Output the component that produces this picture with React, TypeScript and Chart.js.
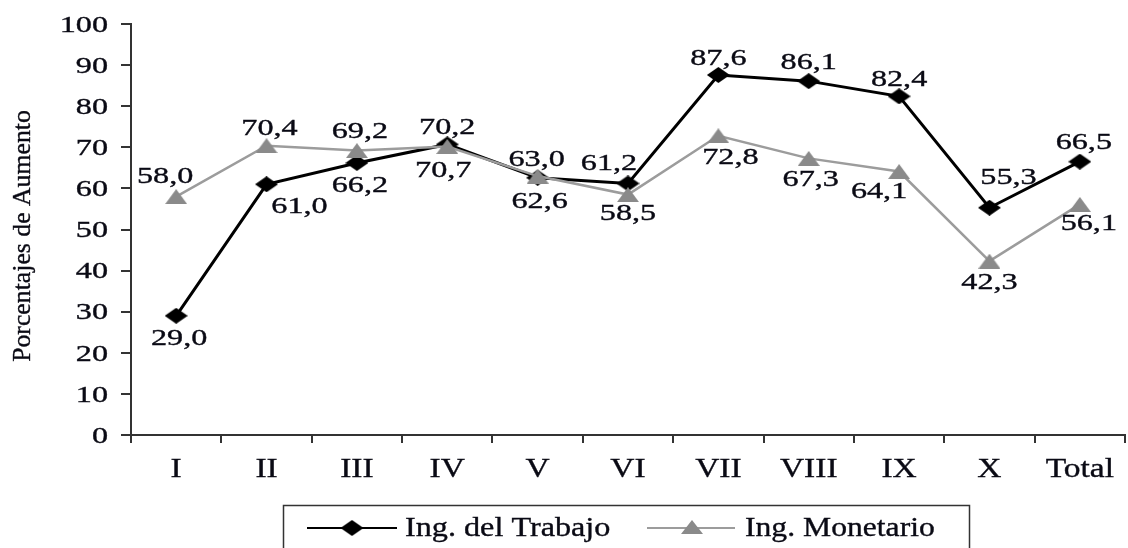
import React, { useEffect, useRef } from "react";
import { Chart, registerables } from "chart.js";

Chart.register(...registerables);

// Income growth by decile (percent increase)
const categories = ["I", "II", "III", "IV", "V", "VI", "VII", "VIII", "IX", "X", "Total"];
const ingTrabajo = [29.0, 61.0, 66.2, 70.7, 62.6, 61.2, 87.6, 86.1, 82.4, 55.3, 66.5];
const ingMonetario = [58.0, 70.4, 69.2, 70.2, 63.0, 58.5, 72.8, 67.3, 64.1, 42.3, 56.1];
const seriesNames = ["Ing. del Trabajo", "Ing. Monetario"];
const axisTitle = "Porcentajes de Aumento";

// Label placement relative to each point: [dx, dy] to the label centre
const trabajoLabelOffsets = [
  [3, 21], [33, 21], [3, 21], [-4, 25], [2, 23], [-19, -21],
  [0, -18], [0, -20], [0, -18], [19, -31], [4, -20],
];
const monetarioLabelOffsets = [
  [-11, -21], [3, -18], [3, -20], [0, -20], [-1, -18], [0, 18],
  [12, 21], [2, 20], [-20, 19], [0, 20], [9, 18],
];

const SERIF = '"Liberation Serif", "Times New Roman", serif';
const BLACK = "#000000";
const GREY_LINE = "#9c9c9c";
const GREY_MARK = "#8a8a8a";

function makeDiamond(w: number, h: number, color: string) {
  const c = document.createElement("canvas");
  c.width = w;
  c.height = h;
  const g = c.getContext("2d")!;
  g.fillStyle = color;
  g.beginPath();
  g.moveTo(w / 2, 0);
  g.lineTo(w, h / 2);
  g.lineTo(w / 2, h);
  g.lineTo(0, h / 2);
  g.closePath();
  g.fill();
  return c;
}

function makeTriangle(w: number, h: number, color: string) {
  const c = document.createElement("canvas");
  c.width = w;
  c.height = h;
  const g = c.getContext("2d")!;
  g.fillStyle = color;
  g.beginPath();
  g.moveTo(w / 2, 0);
  g.lineTo(w, h);
  g.lineTo(0, h);
  g.closePath();
  g.fill();
  return c;
}

// Draws horizontally widened serif text; y is the visual centre of digits/capitals
function drawText(
  ctx: CanvasRenderingContext2D,
  text: string,
  x: number,
  y: number,
  size: number,
  sx: number,
  align: CanvasTextAlign,
  rotate = 0
) {
  ctx.save();
  ctx.font = `${size}px ${SERIF}`;
  ctx.fillStyle = "#0a0a14";
  ctx.strokeStyle = "#0a0a14";
  ctx.lineWidth = 0.35;
  ctx.textAlign = align;
  ctx.textBaseline = "alphabetic";
  ctx.translate(x, y);
  if (rotate) ctx.rotate(rotate);
  ctx.scale(sx, 1);
  ctx.fillText(text, 0, 0.335 * size);
  ctx.strokeText(text, 0, 0.335 * size);
  ctx.restore();
}

const fmt = (v: number) => v.toFixed(1).replace(".", ",");

export default function App() {
  const canvasRef = useRef<HTMLCanvasElement | null>(null);

  useEffect(() => {
    document.body.style.margin = "0";
    const canvas = canvasRef.current!;
    const diamond = makeDiamond(23, 16, BLACK);
    const triangle = makeTriangle(22, 15, GREY_MARK);
    const legendDiamond = makeDiamond(23, 16, BLACK);
    const legendTriangle = makeTriangle(22, 14, GREY_MARK);

    const textPlugin = {
      id: "textLayer",
      afterDraw(chart: any) {
        const ctx: CanvasRenderingContext2D = chart.ctx;
        const xs = chart.scales.x;
        const ys = chart.scales.y;

        // y tick labels
        ys.ticks.forEach((t: any) => {
          drawText(ctx, String(t.value), 108, ys.getPixelForValue(t.value), 23, 1.4, "right");
        });

        // x category labels
        categories.forEach((c, i) => {
          drawText(ctx, c, xs.getPixelForValue(i), 468, 27, 1.24, "center");
        });

        // y axis title
        drawText(ctx, axisTitle, 22, 236, 25, 1.03, "center", -Math.PI / 2);

        // value labels
        const series = [
          { data: ingTrabajo, offs: trabajoLabelOffsets },
          { data: ingMonetario, offs: monetarioLabelOffsets },
        ];
        series.forEach((s) => {
          s.data.forEach((v, i) => {
            const px = xs.getPixelForValue(i);
            const py = ys.getPixelForValue(v);
            drawText(ctx, fmt(v), px + s.offs[i][0], py + s.offs[i][1], 23, 1.4, "center");
          });
        });

        // legend box
        ctx.save();
        ctx.strokeStyle = "#333333";
        ctx.lineWidth = 1.5;
        ctx.strokeRect(283.5, 505.5, 686, 60);
        const ly = 528;
        ctx.lineWidth = 2;
        ctx.strokeStyle = BLACK;
        ctx.beginPath();
        ctx.moveTo(307, ly);
        ctx.lineTo(397, ly);
        ctx.stroke();
        ctx.drawImage(legendDiamond, 352 - 11.5, ly - 8);
        ctx.strokeStyle = GREY_LINE;
        ctx.beginPath();
        ctx.moveTo(647, ly);
        ctx.lineTo(735, ly);
        ctx.stroke();
        ctx.drawImage(legendTriangle, 692 - 11, ly - 8);
        ctx.restore();
        drawText(ctx, seriesNames[0], 405, 526.5, 28, 1.15, "left");
        drawText(ctx, seriesNames[1], 745, 526.5, 28, 1.13, "left");
      },
    };

    const chart = new Chart(canvas, {
      type: "line",
      data: {
        labels: categories,
        datasets: [
          {
            label: seriesNames[0],
            data: ingTrabajo,
            borderColor: BLACK,
            borderWidth: 3,
            pointStyle: diamond as any,
            pointRadius: 8,
            fill: false,
            tension: 0,
            order: 1,
          },
          {
            label: seriesNames[1],
            data: ingMonetario,
            borderColor: GREY_LINE,
            borderWidth: 2.5,
            pointStyle: triangle as any,
            pointRadius: 8,
            fill: false,
            tension: 0,
            order: 0,
          },
        ],
      },
      options: {
        responsive: false,
        animation: false,
        devicePixelRatio: 1,
        layout: { padding: { left: 0, top: 24, right: 4, bottom: 0 } },
        plugins: {
          legend: { display: false },
          tooltip: { enabled: false },
        },
        scales: {
          x: {
            type: "category",
            offset: true,
            grid: {
              offset: true,
              drawOnChartArea: false,
              drawTicks: true,
              tickLength: 8,
              color: "#333333",
              lineWidth: 2,
            },
            border: { color: "#333333", width: 2 },
            ticks: { display: false },
            afterFit(scale: any) {
              scale.height = 113;
            },
          },
          y: {
            min: 0,
            max: 100,
            ticks: { display: false, stepSize: 10 },
            grid: {
              drawOnChartArea: false,
              drawTicks: true,
              tickLength: 10,
              color: "#333333",
              lineWidth: 2,
            },
            border: { color: "#333333", width: 2 },
            afterFit(scale: any) {
              scale.width = 131;
            },
          },
        },
      },
      plugins: [textPlugin],
    });

    return () => chart.destroy();
  }, []);

  return (
    <div
      style={{
        position: "fixed",
        left: 0,
        top: 0,
        width: 1128,
        height: 548,
        overflow: "hidden",
        background: "#ffffff",
      }}
    >
      <canvas ref={canvasRef} width={1136} height={548} style={{ width: 1136, height: 548, display: "block" }} />
    </div>
  );
}
